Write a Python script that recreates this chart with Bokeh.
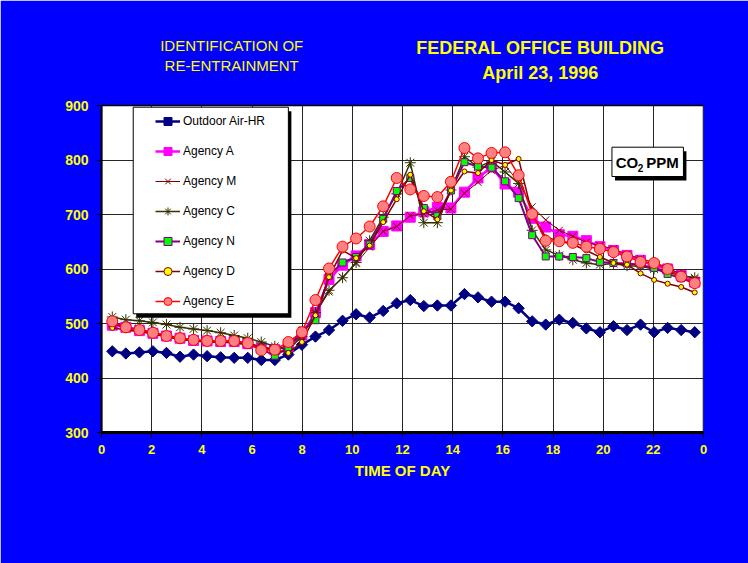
import math
from bokeh.plotting import figure
from bokeh.models import Range1d, FixedTicker, Legend, LegendItem, BoxAnnotation, Label
from bokeh.embed import file_html
from bokeh.resources import INLINE

# ---------------- data ----------------
hours = [0.43, 0.97, 1.51, 2.05, 2.59, 3.13, 3.67, 4.21, 4.75, 5.29, 5.83, 6.37, 6.91, 7.45,
         7.99, 8.53, 9.07, 9.61, 10.15, 10.69, 11.23, 11.77, 12.31, 12.85, 13.39, 13.93, 14.47,
         15.01, 15.55, 16.09, 16.63, 17.17, 17.71, 18.25, 18.79, 19.33, 19.87, 20.41, 20.95,
         21.49, 22.03, 22.57, 23.11, 23.65]

outdoor = [449, 445, 447, 449, 446, 439, 443, 440, 438, 437, 437, 433, 433, 443, 461, 476, 488,
           505, 517, 511, 523, 537, 543, 532, 533, 533, 554, 548, 540, 540, 528, 504, 498, 507,
           501, 491, 484, 495, 488, 498, 484, 492, 488, 484]

agency_a = [497, 493, 487, 482, 477, 473, 469, 468, 467, 467, 463, 455, 452, 458, 479, 520, 581,
            607, 624, 645, 669, 679, 695, 705, 713, 712, 741, 767, 787, 756, 741, 693, 677, 663,
            660, 652, 641, 634, 625, 616, 606, 600, 588, 576]

agency_m = [500, 494, 489, 484, 478, 474, 470, 468, 467, 467, 465, 457, 452, 460, 478, 518, 558,
            585, 610, 640, 669, 678, 698, 701, 708, 710, 739, 759, 781, 790, 760, 714, 690, 671,
            660, 649, 643, 637, 627, 619, 612, 603, 590, 582]

agency_c = [512, 507, 505, 502, 498, 493, 490, 487, 483, 478, 473, 466, 458, 452, 476, 520, 561,
            584, 612, 652, 695, 738, 795, 685, 685, 745, 806, 787, 798, 778, 757, 671, 635, 625,
            617, 611, 608, 610, 606, 605, 600, 594, 588, 584]

agency_n = [500, 493, 488, 482, 477, 472, 469, 467, 466, 466, 462, 453, 441, 456, 487, 506, 588,
            612, 622, 645, 692, 743, 767, 712, 697, 744, 796, 788, 786, 761, 730, 662, 623, 623,
            622, 620, 613, 611, 610, 608, 602, 591, 583, 574]

agency_d = [492, 488, 485, 481, 475, 471, 468, 466, 465, 465, 460, 458, 452, 446, 466, 515, 585,
            634, 620, 643, 686, 728, 773, 706, 691, 744, 779, 776, 800, 791, 802, 700, 658, 652,
            645, 634, 622, 611, 608, 592, 580, 573, 567, 557]

agency_e = [504, 493, 488, 483, 477, 473, 470, 468, 468, 468, 464, 451, 452, 466, 484, 543, 601,
            641, 656, 678, 715, 767, 746, 734, 732, 760, 822, 803, 813, 814, 772, 701, 652, 651,
            648, 641, 637, 631, 623, 613, 611, 600, 586, 574]

x_ticks = [0, 2, 4, 6, 8, 10, 12, 14, 16, 18, 20, 22, 24]
y_ticks = [300, 400, 500, 600, 700, 800, 900]

FONT = "Liberation Sans"
BLUE = "#0000FF"
YELLOW = "#FFFF00"

X0, X1 = 0, 24
Y0, Y1 = 300, 900
# frame extends above the plot area so that the slide titles can live inside it
FRAME_TOP_PX = 20
PLOT_H_PX = 327
FRAME_H_PX = 432 - FRAME_TOP_PX
Y_TOP = Y0 + (Y1 - Y0) * FRAME_H_PX / PLOT_H_PX

p = figure(width=748, height=563, output_backend="svg", toolbar_location=None,
           x_range=Range1d(X0, X1), y_range=Range1d(Y0, Y_TOP),
           min_border_left=101, min_border_right=45, min_border_top=FRAME_TOP_PX,
           min_border_bottom=131,
           background_fill_color=BLUE, border_fill_color=BLUE,
           outline_line_color=BLUE, outline_line_alpha=1, outline_line_width=1)

# white plot area
p.add_layout(BoxAnnotation(left=X0, right=X1, bottom=Y0, top=Y1, level="image",
                           fill_color="white", fill_alpha=1, line_alpha=0))

# axes
p.xaxis.ticker = FixedTicker(ticks=x_ticks)
p.xaxis.major_label_overrides = {24: "0"}
p.yaxis.ticker = FixedTicker(ticks=y_ticks)
p.yaxis.bounds = (Y0, Y1)
for ax in (p.xaxis[0], p.yaxis[0]):
    ax.axis_line_color = "black"
    ax.axis_line_width = 2
    ax.major_tick_line_color = "black"
    ax.major_tick_in = 0
    ax.major_tick_out = 5
    ax.minor_tick_line_color = None
    ax.major_label_text_color = YELLOW
    ax.major_label_text_font = FONT
    ax.major_label_text_font_style = "bold"
p.xaxis.axis_line_width = 3
p.xaxis.major_label_text_font_size = "13px"
p.yaxis.major_label_text_font_size = "14px"
p.xaxis.major_label_standoff = 7
p.yaxis.major_label_standoff = 8
p.xaxis.axis_label = "TIME OF DAY"
p.xaxis.axis_label_text_color = YELLOW
p.xaxis.axis_label_text_font = FONT
p.xaxis.axis_label_text_font_style = "bold"
p.xaxis.axis_label_text_font_size = "15px"
p.xaxis.axis_label_standoff = 5

# grids
p.ygrid.ticker = FixedTicker(ticks=y_ticks)
p.ygrid.grid_line_color = "black"
p.ygrid.grid_line_width = 1
p.ygrid.grid_line_alpha = 0.85
xg = p.xgrid[0]
if "cross_bounds" in xg.properties():
    xg.ticker = FixedTicker(ticks=x_ticks)
    xg.cross_bounds = (Y0, Y1)
    xg.grid_line_color = "black"
    xg.grid_line_width = 1
    xg.grid_line_alpha = 0.85
else:
    xg.visible = False
    p.segment(x0=x_ticks, y0=[Y0] * len(x_ticks), x1=x_ticks, y1=[Y1] * len(x_ticks),
              line_color="black", line_width=1, line_alpha=0.85)

# plot-area border
p.add_layout(BoxAnnotation(left=X0, right=X1, bottom=Y0, top=Y1, level="underlay",
                           fill_alpha=0, line_color="black", line_width=1.5, line_alpha=1))

# series
items = []

l = p.line(hours, outdoor, line_color="#000080", line_width=2.5)
s = p.scatter(hours, outdoor, marker="square", size=8, angle=math.pi / 4,
              fill_color="#000080", line_color="#000080")
items.append(LegendItem(label="Outdoor Air-HR", renderers=[l, s]))

l = p.line(hours, agency_a, line_color="#FF00FF", line_width=2.5)
s = p.scatter(hours, agency_a, marker="square", size=10, fill_color="#FF00FF", line_color="#FF00FF")
items.append(LegendItem(label="Agency A", renderers=[l, s]))

l = p.line(hours, agency_m, line_color="#800000", line_width=1)
s = p.scatter(hours, agency_m, marker="x", size=10, line_color="#800000", line_width=1)
items.append(LegendItem(label="Agency M", renderers=[l, s]))

l = p.line(hours, agency_c, line_color="#333300", line_width=1.5)
s = p.scatter(hours, agency_c, marker="asterisk", size=11, line_color="#333300", line_width=1)
items.append(LegendItem(label="Agency C", renderers=[l, s]))

l = p.line(hours, agency_n, line_color="#800080", line_width=2)
s = p.scatter(hours, agency_n, marker="square", size=7, fill_color="#00FF00", line_color="#800080",
              line_width=1)
items.append(LegendItem(label="Agency N", renderers=[l, s]))

l = p.line(hours, agency_d, line_color="#800000", line_width=1.5)
s = p.scatter(hours, agency_d, marker="circle", size=5, fill_color="#FFFF00", line_color="#800000",
              line_width=1)
items.append(LegendItem(label="Agency D", renderers=[l, s]))

l = p.line(hours, agency_e, line_color="#FF0000", line_width=1.5)
s = p.scatter(hours, agency_e, marker="circle", size=11, fill_color="#FF8080", line_color="#FF0000",
              line_width=1)
items.append(LegendItem(label="Agency E", renderers=[l, s]))

# legend frame (box + shadow)
p.add_layout(BoxAnnotation(left=1.385, right=7.57, bottom=510.5, top=889.6,
                           fill_color="black", fill_alpha=1, line_alpha=0))
p.add_layout(BoxAnnotation(left=1.265, right=7.45, bottom=517.8, top=896.9,
                           fill_color="white", fill_alpha=1, line_color="black", line_width=1,
                           line_alpha=1))

# CO2 PPM box
p.add_layout(BoxAnnotation(left=20.47, right=23.32, bottom=762.4, top=816.2,
                           fill_color="black", fill_alpha=1, line_alpha=0))
p.add_layout(BoxAnnotation(left=20.35, right=23.2, bottom=769.7, top=823.5,
                           fill_color="white", fill_alpha=1, line_color="black", line_width=1,
                           line_alpha=1))
p.add_layout(Label(x=20.5, y=795, text="CO", text_font=FONT, text_font_style="bold",
                   text_font_size="15px", text_color="black", text_align="left",
                   text_baseline="middle"))
p.add_layout(Label(x=21.38, y=786, text="2", text_font=FONT, text_font_style="bold",
                   text_font_size="10px", text_color="black", text_align="left",
                   text_baseline="middle"))
p.add_layout(Label(x=21.72, y=795, text="PPM", text_font=FONT, text_font_style="bold",
                   text_font_size="15px", text_color="black", text_align="left",
                   text_baseline="middle"))

# titles
p.add_layout(Label(x=5.19, y=1010, text="IDENTIFICATION OF", text_font=FONT,
                   text_font_size="15px", text_color=YELLOW, text_align="center",
                   text_baseline="middle"))
p.add_layout(Label(x=5.19, y=973, text="RE-ENTRAINMENT", text_font=FONT,
                   text_font_size="15px", text_color=YELLOW, text_align="center",
                   text_baseline="middle"))
p.add_layout(Label(x=17.49, y=1006, text="FEDERAL OFFICE BUILDING", text_font=FONT,
                   text_font_style="bold", text_font_size="18px", text_color=YELLOW,
                   text_align="center", text_baseline="middle"))
p.add_layout(Label(x=17.49, y=960, text="April 23, 1996", text_font=FONT,
                   text_font_style="bold", text_font_size="18px", text_color=YELLOW,
                   text_align="center", text_baseline="middle"))

legend = Legend(items=items, location=(54, 121), orientation="vertical",
                padding=0, margin=0, spacing=10, glyph_width=25, glyph_height=20,
                label_height=20, label_standoff=3,
                label_text_font=FONT, label_text_font_size="12px", label_text_color="black",
                background_fill_alpha=0, border_line_alpha=0)
p.add_layout(legend)

open("out.html", "w").write(file_html(p, INLINE))
